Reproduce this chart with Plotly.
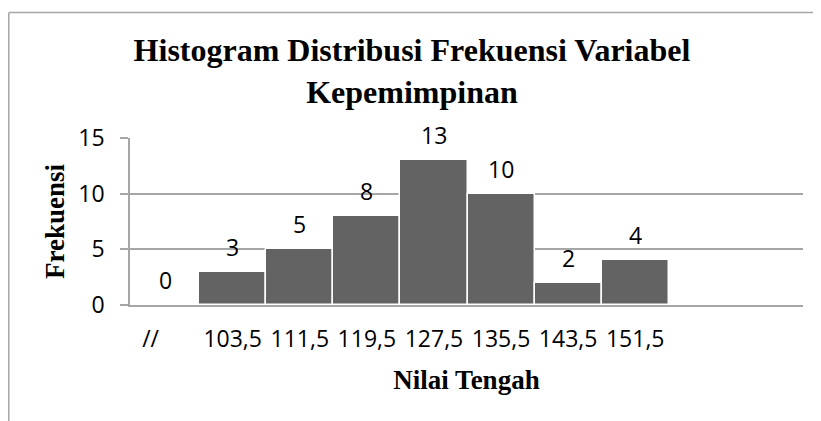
import plotly.graph_objects as go

# Data
categories = ["//", "103,5", "111,5", "119,5", "127,5", "135,5", "143,5", "151,5"]
frekuensi = [0, 3, 5, 8, 13, 10, 2, 4]
positions = list(range(len(categories)))
n_slots = 10  # axis shows two empty slots after the last class
y_ticks = [0, 5, 10, 15]

title_text = "Histogram Distribusi Frekuensi Variabel<br>Kepemimpinan"
x_title = "Nilai Tengah"
y_title = "Frekuensi"

tick_text = [c + "\u00a0" * 5 if c == "//" else c for c in categories]

grid = "#a6a6a6"
bar_color = "#636363"
tick_font = dict(family="Open Sans", size=23, color="#000000")
serif_bold = dict(family="Liberation Serif", size=27, color="#000000")

W, H = 813, 413  # page body has an 8px margin
ML, MR, MT, MB = 122, 18, 129.5, 116
PW, PH = W - ML - MR, H - MT - MB

bx0 = (0.8 - ML) / PW          # left edge of chart frame (paper units)
bx1 = 1 + (MR + 40) / PW       # beyond right edge of page
by0 = -(MB + 40) / PH          # beyond bottom edge of page
by1 = 1 + (MT - 3.5) / PH      # top edge of chart frame

fig = go.Figure()
fig.add_trace(go.Bar(
    x=positions,
    y=frekuensi,
    width=1,
    marker=dict(color=bar_color, line=dict(color="#ffffff", width=1.5)),
    hoverinfo="x+y",
    showlegend=False,
))

for p, v in zip(positions, frekuensi):
    fig.add_annotation(x=p, y=v, text=str(v), showarrow=False, yshift=25,
                       font=tick_font, xref="x", yref="y")

frame = dict(color="#a6a6a6", width=1.5)
fig.update_layout(
    width=W, height=H,
    margin=dict(l=ML, r=MR, t=MT, b=MB),
    paper_bgcolor="#ffffff", plot_bgcolor="#ffffff",
    title=dict(text="<b>" + title_text + "</b>", x=404 / W, xanchor="center",
               y=1 - 53 / H, yanchor="top", yref="container",
               font=dict(family="Liberation Serif", size=32, color="#000000")),
    bargap=0,
    xaxis=dict(
        range=[-0.53, n_slots - 0.5],
        tickmode="array", tickvals=positions, ticktext=tick_text,
        tickfont=tick_font, ticks="", showgrid=False,
        showline=True, linecolor=grid, linewidth=1.5,
        ticklabelstandoff=13,
        title=dict(text="<b>" + x_title + "</b>", font=serif_bold, standoff=17),
        zeroline=False,
    ),
    yaxis=dict(
        range=[0, 15], tickmode="array", tickvals=y_ticks,
        tickfont=tick_font, ticks="outside", ticklen=8, tickcolor=grid, tickwidth=1.5,
        showgrid=True, gridcolor=grid, gridwidth=1.5,
        showline=True, linecolor=grid, linewidth=1.5,
        ticklabelstandoff=11,
        title=dict(text="<b>" + y_title + "</b>", font=serif_bold, standoff=6),
        zeroline=False,
    ),
    shapes=[
        dict(type="line", xref="paper", yref="paper", x0=bx0, x1=bx1, y0=by1, y1=by1,
             line=frame, layer="above"),
        dict(type="line", xref="paper", yref="paper", x0=bx0, x1=bx0, y0=by1, y1=by0,
             line=frame, layer="above"),
    ],
)

fig.write_html("out.html", config={"displayModeBar": False})
